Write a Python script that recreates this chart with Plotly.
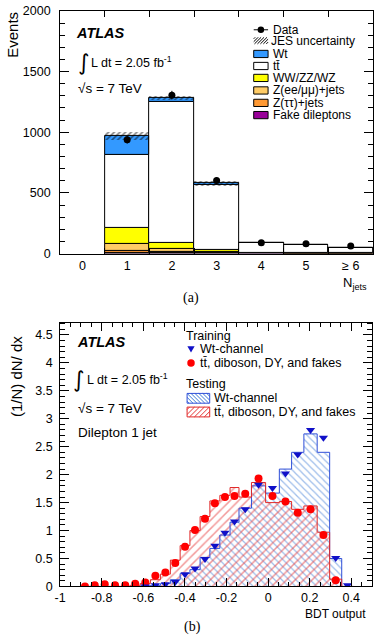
import numpy as np
import plotly.graph_objects as go

W, H = 378, 644

# ---------------- Panel (a): N_jets ----------------
njets = [0, 1, 2, 3, 4, 5, 6]
njets_labels = ["0", "1", "2", "3", "4", "5", "≥ 6"]
fakes = [0, 8, 4, 2, 1, 0.5, 0.5]
ztautau = [0, 15, 8, 3, 1, 0.5, 0.5]
zeemumu = [0, 55, 25, 8, 2, 1, 1]
diboson = [0, 132, 48, 15, 3, 1, 1]
ttbar = [0, 606, 1165, 537, 78, 67, 42]
wt = [0, 154, 35, 15, 6, 5, 3]
jes_unc = [0, 32, 18, 22, 5, 5, 4]
data_njets = [1, 2, 3, 4, 5, 6]
data_events = [937, 1305, 602, 89, 80, 62]

# ---------------- Panel (b): BDT output ----------------
bdt_edges = [-0.904, -0.857, -0.81, -0.761, -0.711, -0.663, -0.615, -0.566, -0.518,
             -0.47, -0.423, -0.376, -0.327, -0.28, -0.232, -0.183, -0.14, -0.08,
             -0.012, 0.054, 0.113, 0.172, 0.236, 0.296, 0.354, 0.41]
train_wt = [None, None, None, None, None, None, 0.0, 0.02, 0.04, 0.08, 0.22, 0.32,
            0.49, 0.73, 0.96, 1.16, 1.38, 1.82, 1.76, 2.02, 2.36, 2.80, 2.66, 0.51, 0.02]
train_bkg = [0.0, 0.02, 0.04, 0.02, 0.02, 0.05, 0.07, 0.19, 0.25, 0.42, 0.71, 1.01,
             1.21, 1.49, 1.60, 1.62, 1.66, 1.93, 1.62, 1.52, 1.32, 1.38, 0.92, 0.11, None]
test_wt = [0, 0, 0, 0, 0, 0, 0.01, 0.02, 0.05, 0.12, 0.23, 0.30, 0.52, 0.68, 0.92,
           1.15, 1.40, 1.80, 1.67, 2.10, 2.40, 2.73, 2.40, 0.50, 0.0]
test_bkg = [0, 0, 0, 0, 0, 0.02, 0.05, 0.12, 0.22, 0.47, 0.73, 1.00, 1.25, 1.53,
            1.63, 1.77, 1.60, 1.86, 1.50, 1.52, 1.38, 1.44, 0.97, 0.13, 0.0]

FONT = "Liberation Sans, Arial, sans-serif"
C_WT = "#3399ff"
C_TT = "#ffffff"
C_VV = "#ffff00"
C_ZLL = "#ffcc66"
C_ZTT = "#ff9933"
C_FAKE = "#990099"
BLUE_HATCH = "#3d7bd6"
BLUE_LINE = "#2f4fd8"
BLUE_MK = "#1010c8"
RED_HATCH = "#e63434"
RED_LINE = "#e02828"
RED_MK = "#ff0000"


def px(x):
    return x / W


def py(y):
    return 1 - y / H


fig = go.Figure()

# ---------- panel (a) stacked histogram ----------
stack = [("Fake dileptons", fakes, C_FAKE), ("Z(ττ)+jets", ztautau, C_ZTT),
         ("Z(ee/μμ)+jets", zeemumu, C_ZLL), ("WW/ZZ/WZ", diboson, C_VV),
         ("tt̄", ttbar, C_TT), ("Wt", wt, C_WT)]
base = np.zeros(len(njets))
for name, vals, col in stack:
    v = np.array(vals, dtype=float)
    fig.add_trace(go.Bar(x=njets[1:], y=v[1:], base=base[1:].copy(), width=1, name=name,
                         marker=dict(color=col, line=dict(color="black", width=1)),
                         xaxis="x", yaxis="y", showlegend=False))
    base = base + v
total = base
jes = np.array(jes_unc, dtype=float)
fig.add_trace(go.Bar(x=njets[1:], y=(2 * jes)[1:], base=(total - jes)[1:], width=1,
                     name="JES uncertainty",
                     marker=dict(color="rgba(0,0,0,0)", line=dict(width=0),
                                 pattern=dict(shape="/", fgcolor="black", bgcolor="rgba(0,0,0,0)",
                                              size=4, solidity=0.4)),
                     xaxis="x", yaxis="y", showlegend=False))
fig.add_trace(go.Scatter(x=data_njets, y=data_events, mode="markers", name="Data",
                         marker=dict(color="black", size=7),
                         error_y=dict(type="data", array=list(np.sqrt(data_events)),
                                      color="black", thickness=1, width=0),
                         xaxis="x", yaxis="y", showlegend=False))

# ---------- panel (b) BDT ----------
edges = np.array(bdt_edges)
centers = (edges[:-1] + edges[1:]) / 2
widths = np.diff(edges)


def step_xy(vals):
    xs = [edges[0]] + list(edges) + [edges[-1]]
    ys = [0] + list(vals) + [vals[-1], 0]
    return xs, ys


for vals, hcol, shp, sz in [(test_wt, BLUE_HATCH, "\\", 5), (test_bkg, RED_HATCH, "/", 6)]:
    fig.add_trace(go.Bar(x=centers, y=vals, width=widths,
                         marker=dict(color="rgba(0,0,0,0)", line=dict(width=0),
                                     pattern=dict(shape=shp, fgcolor=hcol, bgcolor="rgba(0,0,0,0)",
                                                  size=sz, solidity=0.25)),
                         xaxis="x2", yaxis="y2", showlegend=False))
for vals, lcol in [(test_wt, BLUE_LINE), (test_bkg, RED_LINE)]:
    xs, ys = step_xy(vals)
    fig.add_trace(go.Scatter(x=xs, y=ys, mode="lines", line=dict(color=lcol, width=1, shape="hv"),
                             xaxis="x2", yaxis="y2", showlegend=False))

fig.add_trace(go.Scatter(x=centers, y=train_bkg, mode="markers",
                         marker=dict(color=RED_MK, size=8, symbol="circle"),
                         xaxis="x2", yaxis="y2", showlegend=False))
fig.add_trace(go.Scatter(x=centers, y=train_wt, mode="markers",
                         marker=dict(color=BLUE_MK, size=8, symbol="triangle-down"),
                         xaxis="x2", yaxis="y2", showlegend=False))

# ---------- axes ----------
axcommon = dict(showline=True, linecolor="black", linewidth=1, mirror="allticks",
                showgrid=False, zeroline=False, tickcolor="black", ticklabeloverflow="allow",
                tickfont=dict(family=FONT, size=12.5, color="black"))
fig.update_layout(
    xaxis=dict(domain=[px(55), px(373)], anchor="y", range=[-0.5, 6.5],
               tickmode="array", tickvals=njets, ticktext=njets_labels, ticks="",
               minor=dict(tickmode="array", tickvals=[0.5, 1.5, 2.5, 3.5, 4.5, 5.5],
                          ticks="inside", ticklen=6, tickcolor="black"),
               **axcommon),
    yaxis=dict(domain=[py(252), py(4)], anchor="x", range=[0, 2000],
               tickmode="linear", tick0=0, dtick=500, ticks="inside", ticklen=9,
               minor=dict(dtick=100, ticks="inside", ticklen=5, tickcolor="black"),
               ticklabelstandoff=6, **axcommon),
    xaxis2=dict(domain=[px(55), px(372)], anchor="y2", range=[-1, 0.5],
                tickmode="array", tickvals=[-1, -0.8, -0.6, -0.4, -0.2, 0, 0.2, 0.4],
                ticktext=["-1", "-0.8", "-0.6", "-0.4", "-0.2", "0", "0.2", "0.4"],
                ticks="inside", ticklen=8,
                minor=dict(dtick=0.05, tick0=0, ticks="inside", ticklen=4, tickcolor="black"),
                **axcommon),
    yaxis2=dict(domain=[py(592.3), py(322.7)], anchor="x2", range=[0, 4.72],
                tickmode="array", tickvals=[0, 0.5, 1, 1.5, 2, 2.5, 3, 3.5, 4, 4.5],
                ticktext=["0", "0.5", "1", "1.5", "2", "2.5", "3", "3.5", "4", "4.5"],
                ticks="inside", ticklen=9,
                minor=dict(dtick=0.1, tick0=0, ticks="inside", ticklen=5, tickcolor="black"),
                ticklabelstandoff=4, **axcommon),
    barmode="overlay", bargap=0,
    width=W, height=H, margin=dict(l=0, r=0, t=0, b=0),
    paper_bgcolor="white", plot_bgcolor="white", showlegend=False,
)

annotations = []
shapes = []


def ann(text, x, y, size=12, xanchor="left", yanchor="middle", family=FONT, angle=0, color="black"):
    annotations.append(dict(text=text, x=px(x), y=py(y), xref="paper", yref="paper",
                            xanchor=xanchor, yanchor=yanchor, showarrow=False, borderpad=0,
                            textangle=angle, font=dict(family=family, size=size, color=color)))


def rect(x0, y0, x1, y1, fill, line="black", lw=1):
    shapes.append(dict(type="rect", xref="paper", yref="paper", x0=px(x0), x1=px(x1),
                       y0=py(y1), y1=py(y0), fillcolor=fill,
                       line=dict(color=line, width=lw)))


def seg(x0, y0, x1, y1, color, lw=1):
    shapes.append(dict(type="line", xref="paper", yref="paper", x0=px(x0), y0=py(y0),
                       x1=px(x1), y1=py(y1), line=dict(color=color, width=lw)))


def hatch(x0, y0, x1, y1, color, spacing, direction):
    if direction == "/":
        c = x0 + y0 + spacing / 2
        while c < x1 + y1:
            xa = max(x0, c - y1)
            xb = min(x1, c - y0)
            if xb > xa:
                seg(xa, c - xa, xb, c - xb, color)
            c += spacing
    else:
        c = x0 - y1 + spacing / 2
        while c < x1 - y0:
            xa = max(x0, c + y0)
            xb = min(x1, c + y1)
            if xb > xa:
                seg(xa, xa - c, xb, xb - c, color)
            c += spacing


def circle(cx, cy, r, color):
    shapes.append(dict(type="circle", xref="paper", yref="paper", x0=px(cx - r), x1=px(cx + r),
                       y0=py(cy + r), y1=py(cy - r), fillcolor=color, line=dict(color=color, width=0)))


# ---- panel (a) texts ----
ann("Events", 7, 4, size=15, xanchor="center", yanchor="top", angle=-90)
ann("N<sub>jets</sub>", 368, 283, size=13, xanchor="right")
ann("(a)", 188, 297, size=14, xanchor="center", family="Liberation Serif, Times New Roman, serif")
ann("<b><i>ATLAS</i></b>", 70, 27, size=14.5)
ann("∫", 72, 57, size=22, family="DejaVu Sans, sans-serif")
ann("L dt = 2.05 fb<sup>-1</sup>", 85, 56, size=12.5)
ann("√s = 7 TeV", 72, 83, size=13.5)

# legend (a)
lx0, lx1 = 251.7, 266.3
seg(lx0, 23.3, lx1, 23.3, "black")
circle(259, 23.3, 3.3, "black")
ann("Data", 270, 23.3)
hatch(lx0, 31, lx1, 37.7, "black", 3, "/")
ann("JES uncertainty", 268, 34.5)
for (nm, col, yc) in [("Wt", C_WT, 48), ("tt̄", C_TT, 60.3), ("WW/ZZ/WZ", C_VV, 72.5),
                      ("Z(ee/μμ)+jets", C_ZLL, 85.3), ("Z(ττ)+jets", C_ZTT, 98),
                      ("Fake dileptons", C_FAKE, 110.5)]:
    rect(lx0, yc - 3.7, lx1, yc + 3.7, col)
    ann(nm, 270, yc)

# ---- panel (b) texts ----
ann("(1/N) dN/ dx", 10, 335, size=15, xanchor="center", yanchor="top", angle=-90)
ann("BDT output", 367, 620, size=12, xanchor="right")
ann("(b)", 189, 634, size=14, xanchor="center", family="Liberation Serif, Times New Roman, serif")
ann("<b><i>ATLAS</i></b>", 71, 342, size=14.5)
ann("∫", 67, 381, size=22, family="DejaVu Sans, sans-serif")
ann("L dt = 2.05 fb<sup>-1</sup>", 81, 380, size=12.5)
ann("√s = 7 TeV", 72, 410, size=13.5)
ann("Dilepton 1 jet", 72, 435, size=13.5)

# legend (b)
ann("Training", 182, 336, size=12.5)
shapes.append(dict(type="path", xref="paper", yref="paper",
                   path="M {:.5f},{:.5f} L {:.5f},{:.5f} L {:.5f},{:.5f} Z".format(
                       px(184.3), py(346.8), px(191.7), py(346.8), px(188), py(353.2)),
                   fillcolor=BLUE_MK, line=dict(color=BLUE_MK, width=0)))
ann("Wt-channel", 196, 350, size=12.5)
circle(188, 364, 3.8, RED_MK)
ann("tt̄, diboson, DY, and fakes", 196, 364, size=12.5)
ann("Testing", 182, 385, size=12.5)
hatch(184, 395, 207, 405, BLUE_HATCH, 4, "\\")
rect(184, 395, 207, 405, "rgba(0,0,0,0)", BLUE_LINE)
ann("Wt-channel", 210, 400, size=12.5)
hatch(184, 409, 207, 419, RED_HATCH, 5, "/")
rect(184, 409, 207, 419, "rgba(0,0,0,0)", RED_LINE)
ann("tt̄, diboson, DY, and fakes", 210, 414, size=12.5)

fig.update_layout(annotations=annotations, shapes=shapes)
fig.write_html("out.html")
